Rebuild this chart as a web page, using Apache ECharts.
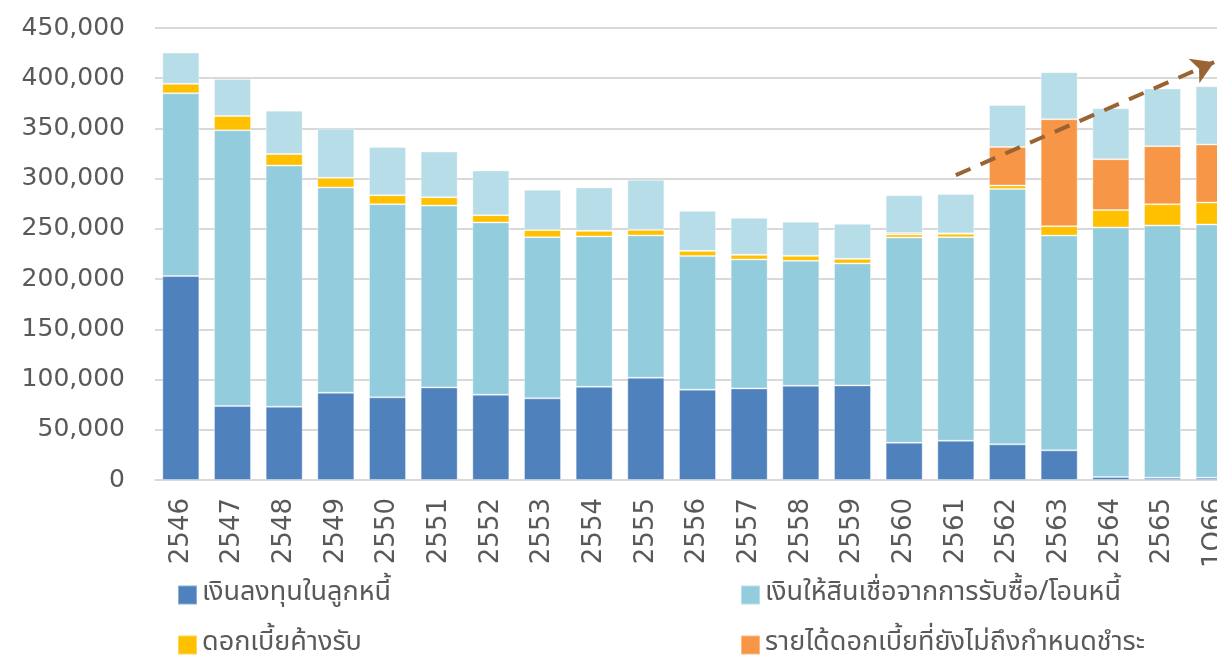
<!DOCTYPE html>
<html>
<head>
<meta charset="utf-8">
<script src="https://cdn.jsdelivr.net/npm/echarts@6/dist/echarts.min.js"></script>
<style>
  html, body { margin: 0; padding: 0; background: #fff; overflow: hidden; }
  /* the original is cropped on the right, so the canvas runs past the window */
  #chart { width: 1240px; height: 655px; }
</style>
</head>
<body>
<div id="chart"></div>
<script>
// categories (Thai Buddhist years, last one is 1Q66 and is cut off at the edge)
const years = ['2546', '2547', '2548', '2549', '2550', '2551', '2552', '2553', '2554', '2555',
  '2556', '2557', '2558', '2559', '2560', '2561', '2562', '2563', '2564', '2565', '1Q66']

// values in million baht
const investDebtors = [203000, 73600, 73000, 86900, 82300, 92200, 84900, 81300, 92800, 101800,
  89900, 91200, 93800, 94200, 37100, 39100, 35500, 29500, 3000, 2300, 2300]
const loansPurchased = [182000, 274600, 240000, 204400, 192300, 181000, 171500, 160500, 149700, 141700,
  133000, 128400, 124400, 121400, 204400, 202700, 254300, 213900, 248500, 251100, 252100]
const accruedInterest = [9500, 14300, 11600, 9600, 9000, 8300, 7300, 7000, 5600, 5600,
  5300, 4600, 5000, 4600, 3000, 3300, 3400, 9300, 17200, 21200, 21900]
const deferredIncome = [0, 0, 0, 0, 0, 0, 0, 0, 0, 0,
  0, 0, 0, 0, 1500, 500, 38400, 106500, 50700, 57700, 57700]
const allowance = [31000, 36800, 43000, 48800, 48000, 45500, 44500, 40100, 43200, 49800,
  39800, 36800, 33800, 34800, 37500, 39200, 41800, 46800, 50700, 57400, 58000]

const yTicks = [0, 50000, 100000, 150000, 200000, 250000, 300000, 350000, 400000, 450000]

// trend arrow, in data space (category index, value)
const trendStart = [14.8, 303500]
const trendEnd = [19.9, 416000]

const names = {
  invest: 'เงินลงทุนในลูกหนี้',
  loans: 'เงินให้สินเชื่อจากการรับซื้อ/โอนหนี้',
  accrued: 'ดอกเบี้ยค้างรับ',
  deferred: 'รายได้ดอกเบี้ยที่ยังไม่ถึงกำหนดชำระ',
  allowance: 'ค่าเผื่อหนี้สงสัยจะสูญ',
}

const font = 'DejaVu Sans, sans-serif'
const thaiFont = 'Noto Sans Thai, Noto Sans, sans-serif'

const chart = echarts.init(document.getElementById('chart'))

const barSeries = (name, data, color, extra = {}) => ({
  name,
  type: 'bar',
  stack: 'total',
  barWidth: 37,
  data,
  itemStyle: { color, borderColor: 'rgba(255,255,255,0.35)', borderWidth: 1 },
  emphasis: { disabled: true },
  ...extra,
})

const legendStyle = {
  orient: 'vertical',
  height: 100,
  itemWidth: 19,
  itemHeight: 19,
  itemGap: 22,
  icon: 'rect',
  textStyle: { fontFamily: thaiFont, fontSize: 27, color: '#595959', lineHeight: 28 },
}

chart.setOption({
  animation: false,
  grid: { left: 155, right: 0, top: 28, bottom: 175 },
  legend: [
    { ...legendStyle, left: 172, top: 576, data: [names.invest, names.accrued] },
    { ...legendStyle, left: 735, top: 576, data: [names.loans, names.deferred] },
  ],
  xAxis: {
    type: 'category',
    data: years,
    axisTick: { show: false },
    axisLine: { lineStyle: { color: '#d9d9d9', width: 2 } },
    axisLabel: {
      rotate: 90,
      margin: 18,
      interval: 0,
      fontFamily: font,
      fontSize: 26,
      color: '#595959',
    },
  },
  yAxis: {
    type: 'value',
    min: yTicks[0],
    max: yTicks[yTicks.length - 1],
    interval: 50000,
    axisLine: { show: false },
    axisTick: { show: false },
    splitLine: { lineStyle: { color: '#d9d9d9', width: 2 } },
    axisLabel: {
      margin: 30,
      fontFamily: font,
      fontSize: 25,
      color: '#595959',
      formatter: (v) => v.toLocaleString('en-US'),
    },
  },
  series: [
    barSeries(names.invest, investDebtors, '#4f81bd'),
    barSeries(names.loans, loansPurchased, '#93cddd'),
    barSeries(names.accrued, accruedInterest, '#ffc000'),
    barSeries(names.deferred, deferredIncome, '#f79646'),
    barSeries(names.allowance, allowance, '#b7dde8', {
      markLine: {
        silent: true,
        symbol: ['none', 'arrow'],
        symbolSize: [20, 22],
        label: { show: false },
        lineStyle: { color: '#9a6333', width: 4, type: [16, 11] },
        data: [[{ coord: trendStart }, { coord: trendEnd }]],
      },
    }),
  ],
})
</script>
</body>
</html>
